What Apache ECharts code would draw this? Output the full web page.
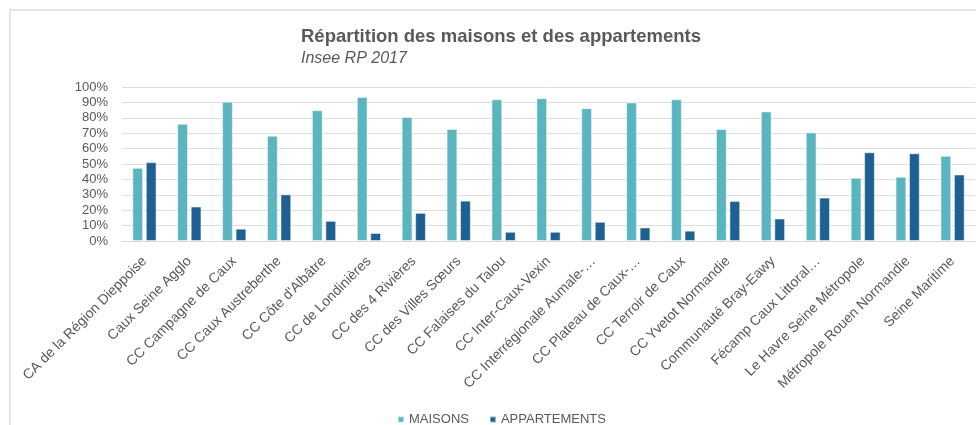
<!DOCTYPE html>
<html>
<head>
<meta charset="utf-8">
<script src="https://cdn.jsdelivr.net/npm/echarts@6/dist/echarts.min.js"></script>
<style>
  html, body { margin: 0; padding: 0; background: #fff; }
  #chart { width: 976px; height: 425px; }
</style>
</head>
<body>
<div id="chart"></div>
<script>
const categories = [
  'CA de la Région Dieppoise',
  'Caux Seine Agglo',
  'CC Campagne de Caux',
  'CC Caux Austreberthe',
  "CC Côte d'Albâtre",
  'CC de Londinières',
  'CC des 4 Rivières',
  'CC des Villes Sœurs',
  'CC Falaises du Talou',
  'CC Inter-Caux-Vexin',
  'CC Interrégionale Aumale-…',
  'CC Plateau de Caux-…',
  'CC Terroir de Caux',
  'CC Yvetot Normandie',
  'Communauté Bray-Eawy',
  'Fécamp Caux Littoral…',
  'Le Havre Seine Métropole',
  'Métropole Rouen Normandie',
  'Seine Maritime'
]

// % of dwellings
const maisons = [47.5, 76.1, 90.5, 68.4, 84.9, 93.5, 80.6, 72.7, 92.0, 92.7, 86.2, 89.9, 92.0, 72.7, 84.1, 70.5, 41.1, 41.7, 55.3]
const appartements = [51.2, 22.4, 8.0, 30.3, 13.1, 5.2, 18.3, 26.2, 6.0, 6.0, 12.5, 8.8, 6.7, 26.0, 14.6, 28.2, 57.6, 57.0, 43.2]

const textColor = '#595959'
const font = '"Liberation Sans", Arial, sans-serif'

const chart = echarts.init(document.getElementById('chart'))

const option = {
  backgroundColor: '#fff',
  textStyle: { fontFamily: font },
  animation: false,
  graphic: [
    {
      type: 'rect',
      shape: { x: 10, y: 10, width: 1100, height: 600 },
      style: { fill: 'none', stroke: '#e4e4e4', lineWidth: 2 },
      silent: true
    }
  ],
  title: {
    text: 'Répartition des maisons et des appartements',
    subtext: 'Insee RP 2017',
    left: 296,
    top: 22,
    itemGap: 5,
    textStyle: {
      fontFamily: font,
      fontSize: 18.5,
      fontWeight: 'bold',
      color: textColor
    },
    subtextStyle: {
      fontFamily: font,
      fontSize: 16,
      fontStyle: 'italic',
      color: textColor
    }
  },
  legend: {
    data: ['MAISONS', 'APPARTEMENTS'],
    left: 392,
    top: 408,
    icon: 'rect',
    itemWidth: 6,
    itemHeight: 6,
    itemGap: 20,
    textStyle: { fontFamily: font, fontSize: 13, color: textColor }
  },
  grid: {
    left: 122,
    right: 1,
    top: 87,
    bottom: 184,
    outerBoundsMode: 'none'
  },
  xAxis: {
    type: 'category',
    data: categories,
    axisTick: { show: false },
    axisLine: { lineStyle: { color: '#d9d9d9', width: 1 } },
    axisLabel: {
      interval: 0,
      rotate: 45,
      margin: 18,
      fontSize: 14,
      color: textColor,
      fontFamily: font
    }
  },
  yAxis: {
    type: 'value',
    min: 0,
    max: 100,
    interval: 10,
    axisLine: { show: false },
    axisTick: { show: false },
    axisLabel: {
      formatter: '{value}%',
      fontSize: 13,
      margin: 14,
      color: textColor,
      fontFamily: font
    },
    splitLine: { lineStyle: { color: '#dedede', width: 1 } }
  },
  series: [
    {
      name: 'MAISONS',
      type: 'bar',
      data: maisons,
      barWidth: '24%',
      barGap: '25%',
      itemStyle: {
        color: '#5AB5BF',
        borderColor: 'rgba(255,255,255,0.5)',
        borderWidth: 1
      }
    },
    {
      name: 'APPARTEMENTS',
      type: 'bar',
      data: appartements,
      barWidth: '24%',
      itemStyle: {
        color: '#1F6093',
        borderColor: 'rgba(255,255,255,0.5)',
        borderWidth: 1
      }
    }
  ]
}

chart.setOption(option)
</script>
</body>
</html>
